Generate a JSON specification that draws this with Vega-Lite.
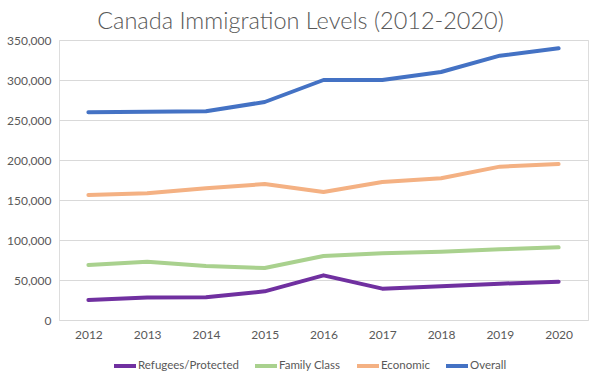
{
  "$schema": "https://vega.github.io/schema/vega-lite/v6.json",
  "width": 529,
  "height": 280,
  "autosize": {"type": "none"},
  "padding": {"left": 59, "top": 40, "right": 12, "bottom": 56},
  "background": "white",
  "title": {
    "text": "Canada Immigration Levels (2012-2020)",
    "anchor": "middle",
    "frame": "group",
    "dx": -23,
    "dy": 23,
    "offset": 0,
    "baseline": "bottom",
    "font": "Lato",
    "fontSize": 23.5,
    "fontWeight": 300,
    "color": "#595959"
  },
  "data": {
    "values": [
      {"year": "2012", "category": "Refugees/Protected", "value": 25000},
      {"year": "2013", "category": "Refugees/Protected", "value": 28000},
      {"year": "2014", "category": "Refugees/Protected", "value": 28300},
      {"year": "2015", "category": "Refugees/Protected", "value": 35800},
      {"year": "2016", "category": "Refugees/Protected", "value": 55800},
      {"year": "2017", "category": "Refugees/Protected", "value": 39200},
      {"year": "2018", "category": "Refugees/Protected", "value": 42100},
      {"year": "2019", "category": "Refugees/Protected", "value": 45400},
      {"year": "2020", "category": "Refugees/Protected", "value": 47900},
      {"year": "2012", "category": "Family Class", "value": 68750},
      {"year": "2013", "category": "Family Class", "value": 72900},
      {"year": "2014", "category": "Family Class", "value": 67500},
      {"year": "2015", "category": "Family Class", "value": 65000},
      {"year": "2016", "category": "Family Class", "value": 80000},
      {"year": "2017", "category": "Family Class", "value": 83300},
      {"year": "2018", "category": "Family Class", "value": 85400},
      {"year": "2019", "category": "Family Class", "value": 88300},
      {"year": "2020", "category": "Family Class", "value": 90800},
      {"year": "2012", "category": "Economic", "value": 156250},
      {"year": "2013", "category": "Economic", "value": 158300},
      {"year": "2014", "category": "Economic", "value": 164600},
      {"year": "2015", "category": "Economic", "value": 170000},
      {"year": "2016", "category": "Economic", "value": 160000},
      {"year": "2017", "category": "Economic", "value": 172500},
      {"year": "2018", "category": "Economic", "value": 177100},
      {"year": "2019", "category": "Economic", "value": 191700},
      {"year": "2020", "category": "Economic", "value": 195000},
      {"year": "2012", "category": "Overall", "value": 259600},
      {"year": "2013", "category": "Overall", "value": 260400},
      {"year": "2014", "category": "Overall", "value": 261000},
      {"year": "2015", "category": "Overall", "value": 272500},
      {"year": "2016", "category": "Overall", "value": 300000},
      {"year": "2017", "category": "Overall", "value": 300000},
      {"year": "2018", "category": "Overall", "value": 310000},
      {"year": "2019", "category": "Overall", "value": 330400},
      {"year": "2020", "category": "Overall", "value": 339600}
    ]
  },
  "mark": {"type": "line", "strokeWidth": 4, "strokeCap": "round", "strokeJoin": "round"},
  "encoding": {
    "x": {
      "field": "year",
      "type": "ordinal",
      "scale": {"type": "point", "padding": 0.5},
      "axis": {
        "title": null,
        "labelAngle": 0,
        "domain": false,
        "ticks": false,
        "grid": false,
        "labelPadding": 9,
        "labelFont": "Lato",
        "labelFontSize": 12,
        "labelColor": "#595959"
      }
    },
    "y": {
      "field": "value",
      "type": "quantitative",
      "scale": {"domain": [0, 350000], "nice": false},
      "axis": {
        "title": null,
        "values": [0, 50000, 100000, 150000, 200000, 250000, 300000, 350000],
        "format": ",d",
        "domain": false,
        "ticks": false,
        "grid": true,
        "gridColor": "#d9d9d9",
        "gridWidth": 1,
        "labelPadding": 8,
        "labelFont": "Lato",
        "labelFontSize": 12,
        "labelColor": "#595959"
      }
    },
    "color": {
      "field": "category",
      "type": "nominal",
      "scale": {
        "domain": ["Refugees/Protected", "Family Class", "Economic", "Overall"],
        "range": ["#7030A0", "#A9D18E", "#F4B183", "#4472C4"]
      },
      "legend": {
        "title": null,
        "orient": "none",
        "direction": "horizontal",
        "legendX": 53,
        "legendY": 313,
        "symbolType": "stroke",
        "symbolSize": 484,
        "symbolStrokeWidth": 4,
        "labelOffset": 0,
        "columnPadding": 8,
        "labelFont": "Lato",
        "labelFontSize": 11.5,
        "labelColor": "#595959"
      }
    }
  }
}
